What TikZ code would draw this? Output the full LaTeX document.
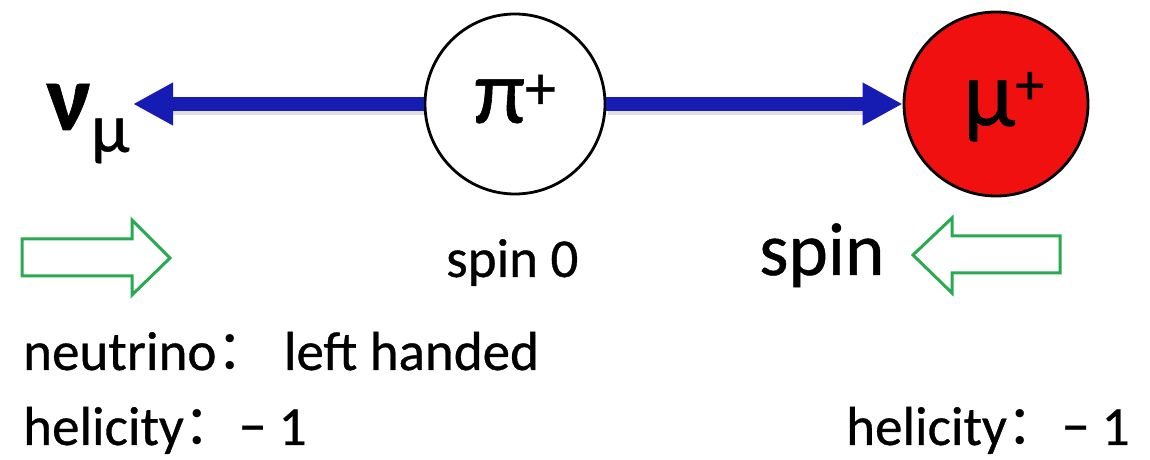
\documentclass[tikz,border=0pt]{standalone}
\usepackage{fontspec}
\setmainfont{Carlito}[FakeBold=0.6]
\newfontfamily\cjk{Noto Sans CJK SC}
\usetikzlibrary{arrows.meta}
\definecolor{arrowblue}{RGB}{22,28,178}
\definecolor{spingreen}{RGB}{40,170,80}
\definecolor{muonred}{RGB}{240,16,16}
\begin{document}
\begin{tikzpicture}[x=1pt,y=1pt,
  particle/.style={circle, draw=black, line width=2.8pt, minimum size=#1, inner sep=0pt},
  momentum/.style={line width=14pt, arrowblue, -{Triangle[length=40pt,width=40pt]}},
  shadowline/.style={line width=10pt, black, opacity=0.12},
  spinarrow/.style={draw=spingreen, line width=3pt, line join=miter, fill=white},
  lbl/.style={anchor=base west, inner sep=0pt, font=\fontsize{55}{60}\selectfont},
  sym/.style={anchor=base west, inner sep=0pt}]
\useasboundingbox (0,0) rectangle (1150,460);
\fill[white] (0,0) rectangle (1150,460);

% particles
\node[particle=180pt] (pi) at (515,356) {};
\node[particle=184pt, fill=muonred] (mu) at (996,356) {};
\coordinate (nutip) at (133,356);

% momentum arrows
\draw[shadowline] ([shift={(2,-6)}]pi.west) -- ([shift={(40,-6)}]nutip);
\draw[shadowline] ([shift={(2,-6)}]pi.east) -- ([shift={(-40,-6)}]mu.west);
\draw[momentum] (pi.west) -- (nutip);
\draw[momentum] (pi.east) -- (mu.west);

% particle labels
\node[sym, font=\fontsize{92}{100}\selectfont] (pitext) at (474,337)
  {π\raisebox{14pt}{\fontsize{62}{70}\selectfont +}};
\node[sym, font=\fontsize{95}{100}\selectfont] (mutext) at (963,334)
  {μ\raisebox{22pt}{\fontsize{58}{70}\selectfont +}};
\node[sym, font=\fontsize{95}{100}\selectfont] (nutext) at (46,330)
  {\textbf{ν}\raisebox{-22pt}{\fontsize{70}{80}\selectfont μ}};

% spin arrows
\draw[spinarrow] (22,221) -- (132,221) -- (132,240) -- (170,202) -- (132,165)
  -- (132,184) -- (22,184) -- cycle;
\draw[spinarrow] (913,205) -- (952,242) -- (952,224) -- (1060,224) -- (1060,187)
  -- (952,187) -- (952,167) -- cycle;

% texts
\node[lbl] (spinzero) at (446,183) {spin 0};
\node[sym, font=\fontsize{75}{80}\selectfont] (spinbig) at (759,185) {spin};
\node[lbl] (neutrino) at (23,90) {neutrino{\cjk ：} left handed};
\node[lbl] (helleft) at (23,15) {helicity{\cjk ：}− 1};
\node[lbl] (helright) at (846,15) {helicity{\cjk ：}− 1};
\end{tikzpicture}
\end{document}
